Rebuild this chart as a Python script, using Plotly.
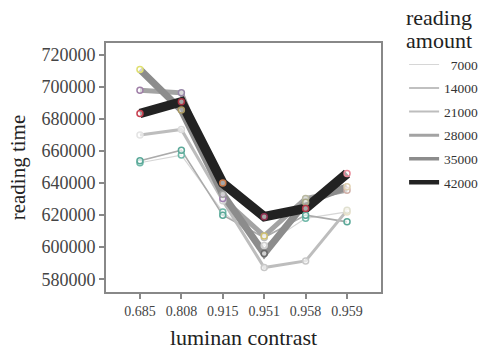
import plotly.graph_objects as go

contrast = ["0.685", "0.808", "0.915", "0.951", "0.958", "0.959"]
amounts = ["7000", "14000", "21000", "28000", "35000", "42000"]

time_7000 = [652700, 657500, 622000, 601000, 618000, 622000]
time_14000 = [654000, 660600, 620000, 606000, 620000, 615800]
time_21000 = [670000, 673500, 629000, 587300, 591400, 623000]
time_28000 = [698000, 696400, 630400, 607000, 630400, 635600]
time_35000 = [711000, 685600, 633000, 596000, 628000, 637700]
time_42000 = [683500, 690800, 640000, 619000, 624200, 646000]

series = [time_7000, time_14000, time_21000, time_28000, time_35000, time_42000]
line_colors = ["#d6d6d6", "#ababab", "#bdbdbd", "#a3a3a3", "#8c8c8c", "#222222"]
line_widths = [1.2, 1.6, 3, 5, 7, 9.5]
legend_widths = [1, 1.5, 2, 3, 3.5, 4.5]
marker_colors = [
    ["#6fb8a8", "#6fb8a8", "#6fb8a8", "#cfcfcf", "#6fb8a8", "#e8e0c8"],
    ["#5aa898", "#5aa898", "#5aa898", "#bdbdbd", "#5aa898", "#5aa898"],
    ["#e4e4e4", "#dcdcdc", "#d0d0d0", "#c8c8c8", "#c8c8c8", "#e0e0d0"],
    ["#a080a8", "#9888a8", "#a080b0", "#d0c070", "#b8b8a0", "#d0b0a8"],
    ["#e0e070", "#a89860", "#a0a0a0", "#6a6a6a", "#a8a888", "#e0d0b0"],
    ["#c84050", "#a83040", "#c87848", "#903050", "#b83848", "#e88898"],
]

fig = go.Figure()
# legend-only entries (thin symbols as in the reference key)
for name, lc, lw in zip(amounts, line_colors, legend_widths):
    fig.add_trace(go.Scatter(
        x=[None], y=[None], mode="lines", name="\u2007" * (5 - len(name)) + name,
        line=dict(color=lc, width=lw), legendgroup=name,
    ))
for name, vals, lc, lw in zip(amounts, series, line_colors, line_widths):
    fig.add_trace(go.Scatter(
        x=contrast, y=vals, mode="lines", showlegend=False,
        line=dict(color=lc, width=lw), legendgroup=name,
    ))
for name, vals, mc in zip(amounts, series, marker_colors):
    fig.add_trace(go.Scatter(
        x=contrast, y=vals, mode="markers", showlegend=False, legendgroup=name,
        marker=dict(symbol="circle", size=6, color="rgba(255,255,255,0.6)",
                    line=dict(color=mc, width=1.5)),
    ))

font = "Liberation Serif, Times New Roman, serif"
title_font = dict(size=22, color="#222", family=font)
fig.update_layout(
    width=483, height=352,
    margin=dict(l=106, r=102, t=43, b=60, autoexpand=False),
    paper_bgcolor="white", plot_bgcolor="white",
    font=dict(family=font, color="#333"),
    showlegend=True,
    legend=dict(
        x=1.084, xanchor="left", y=0.975, yanchor="top",
        font=dict(size=13.5, color="#333", family=font),
        tracegroupgap=3, itemwidth=30, bgcolor="rgba(0,0,0,0)",
    ),
    annotations=[
        dict(text="reading", x=1.212, y=1.101, xref="paper", yref="paper",
             xanchor="center", yanchor="middle", showarrow=False, font=title_font),
        dict(text="amount", x=1.212, y=1.012, xref="paper", yref="paper",
             xanchor="center", yanchor="middle", showarrow=False, font=title_font),
    ],
    xaxis=dict(
        type="category", range=[-0.82, 5.82], automargin=False,
        showline=True, linecolor="#888", linewidth=2, mirror=True,
        ticks="outside", ticklen=5, tickcolor="#888", tickwidth=1.5,
        tickfont=dict(size=14, color="#444"), showgrid=False, zeroline=False,
        title=dict(text="luminan contrast", font=dict(size=22, color="#222"), standoff=12),
    ),
    yaxis=dict(
        range=[572000, 727500], dtick=20000, tick0=580000, tickformat="d",
        automargin=False,
        showline=True, linecolor="#888", linewidth=2, mirror=True,
        ticks="outside", ticklen=5, tickcolor="#888", tickwidth=1.5,
        tickfont=dict(size=18, color="#444"), showgrid=False, zeroline=False,
        title=dict(text="reading time", font=dict(size=21, color="#222"), standoff=10),
    ),
)

fig.write_html("out.html")
